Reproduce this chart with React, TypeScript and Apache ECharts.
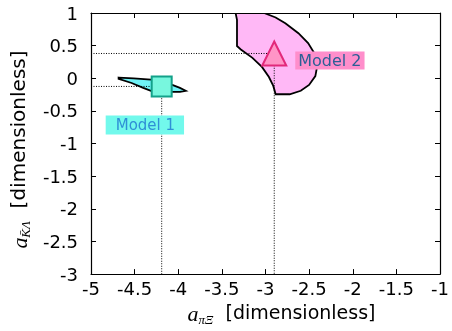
import React, { useEffect, useRef } from 'react';
import * as echarts from 'echarts';

const X_MIN = -5;
const X_MAX = -1;
const Y_MIN = -3;
const Y_MAX = 1;
const STEP = 0.5;

const model1Point = [-4.19, -0.125];
const model2Point = [-2.9, 0.38];

const model1RegionX = [-4.684, -4.512, -4.313, -4.18, -4.069, -3.981, -3.914, -3.981, -4.091, -4.291, -4.402, -4.535, -4.684];
const model1RegionY = [0.011, -0.001, -0.022, -0.057, -0.102, -0.147, -0.192, -0.208, -0.208, -0.203, -0.147, -0.072, -0.008];

const model2RegionX = [-3.343, -3.327, -3.327, -3.283, -3.15, -3.039, -2.961, -2.911, -2.884, -2.723, -2.596, -2.501, -2.429, -2.407, -2.44, -2.512, -2.623, -2.773, -2.884, -3.017];
const model2RegionY = [1.0, 0.894, 0.494, 0.442, 0.313, 0.17, 0.019, -0.117, -0.245, -0.245, -0.192, -0.102, 0.034, 0.192, 0.381, 0.54, 0.691, 0.842, 0.932, 1.0];

const modelLabels = ['Model 1', 'Model 2'];

const regionSeries = (xs: number[], ys: number[], fill: string) => ({
  type: 'custom',
  coordinateSystem: 'cartesian2d',
  clip: true,
  silent: true,
  z: 1,
  data: xs.map((x, i) => [x, ys[i]]),
  encode: { x: 0, y: 1 },
  renderItem: (params: any, api: any) => {
    if (params.dataIndex !== 0) return null;
    const pts = xs.map((x, i) => api.coord([x, ys[i]]));
    return {
      type: 'polygon',
      shape: { points: pts },
      style: { fill, stroke: '#000', lineWidth: 1.8 },
    };
  },
});

const guideSeries = (p: number[]) => ({
  type: 'line',
  silent: true,
  z: 2,
  symbol: 'none',
  data: [
    [X_MIN, p[1]],
    [p[0], p[1]],
    [p[0], Y_MIN],
  ],
  lineStyle: { color: '#000', width: 1, type: [1, 1.5] },
});

const axisCommon = {
  type: 'value',
  interval: STEP,
  splitLine: { show: false },
  axisLine: { show: true, onZero: false, lineStyle: { color: '#000', width: 1.2 } },
  axisTick: { show: true, inside: true, length: 5, lineStyle: { color: '#000', width: 1 } },
};

const makeRich = (textSize: number) => ({
  a: { fontFamily: 'Liberation Serif', fontStyle: 'italic', fontSize: 22, lineHeight: 24, verticalAlign: 'top', color: '#000' },
  s: { fontFamily: 'Liberation Serif', fontStyle: 'italic', fontSize: 13, lineHeight: 14, verticalAlign: 'bottom', color: '#000' },
  t: { fontFamily: 'DejaVu Sans', fontSize: textSize, lineHeight: 24, verticalAlign: 'top', color: '#000' },
});

export default function App() {
  const ref = useRef<HTMLDivElement>(null);
  useEffect(() => {
    if (!ref.current) return;
    const chart = echarts.init(ref.current, undefined, { renderer: 'svg' });
    const option: any = {
      animation: false,
      grid: { left: 86, right: 5, top: 13, bottom: 53, containLabel: false },
      xAxis: [
        {
          ...axisCommon,
          min: X_MIN,
          max: X_MAX,
          position: 'bottom',
          axisLabel: { color: '#000', fontFamily: 'DejaVu Sans', fontSize: 18, margin: 5 },
          name: '{a|a}{s|πΞ}{t|  [dimensionless]}',
          nameLocation: 'middle',
          nameGap: 20,
          nameTextStyle: { padding: [0, 0, 0, 32], rich: makeRich(19) },
        },
        {
          ...axisCommon,
          min: X_MIN,
          max: X_MAX,
          position: 'top',
          axisLabel: { show: false },
        },
      ],
      yAxis: [
        {
          ...axisCommon,
          min: Y_MIN,
          max: Y_MAX,
          position: 'left',
          axisLabel: { color: '#000', fontFamily: 'DejaVu Sans', fontSize: 18, margin: 13 },
          name: '{a|a}{s|K\u0304Λ}{t|  [dimensionless]}',
          nameLocation: 'middle',
          nameRotate: 90,
          nameGap: 44,
          nameTextStyle: { padding: [0, 12, 0, 0], rich: makeRich(20) },
        },
        {
          ...axisCommon,
          min: Y_MIN,
          max: Y_MAX,
          position: 'right',
          axisLabel: { show: false },
        },
      ],
      series: [
        regionSeries(model2RegionX, model2RegionY, '#ffb8f6'),
        regionSeries(model1RegionX, model1RegionY, '#6ff2f6'),
        guideSeries(model1Point),
        guideSeries(model2Point),
        {
          type: 'scatter',
          z: 5,
          symbol: 'rect',
          symbolSize: 20,
          data: [model1Point],
          itemStyle: { color: '#78f7de', borderColor: '#13a189', borderWidth: 2, opacity: 1 },
          label: {
            show: true,
            formatter: modelLabels[0],
            position: [-45, 40],
            fontFamily: 'DejaVu Sans',
            fontSize: 15,
            color: '#2f8fd6',
            backgroundColor: '#72f9ec',
            padding: [2, 9, 2, 10],
          },
        },
        {
          type: 'scatter',
          z: 5,
          symbol: 'triangle',
          symbolSize: 24,
          data: [model2Point],
          itemStyle: { color: '#ff94c6', borderColor: '#e2287a', borderWidth: 2, opacity: 1 },
          label: {
            show: true,
            formatter: modelLabels[1],
            position: [34, 11],
            fontFamily: 'DejaVu Sans',
            fontSize: 16,
            color: '#2d5f96',
            backgroundColor: '#ff8ecb',
            padding: [1, 3, 1, 3],
          },
        },
      ],
    };
    chart.setOption(option);
    return () => chart.dispose();
  }, []);
  return <div ref={ref} style={{ position: 'fixed', left: 0, top: 0, width: 452, height: 331 }} />;
}
